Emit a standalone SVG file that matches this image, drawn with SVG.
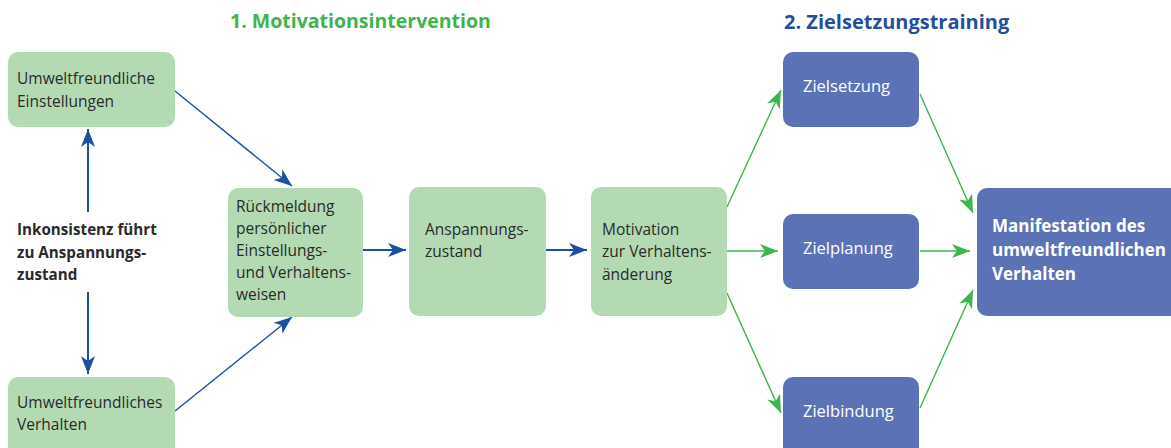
<svg xmlns="http://www.w3.org/2000/svg" width="1171" height="448" viewBox="0 0 1171 448">
<style>
.g{fill:#b3dab3}
.b{fill:#5b72b6}
.t{font-family:"Open Sans","Liberation Sans",sans-serif;font-size:15.5px;fill:#2a2a2a}
.w{font-family:"Open Sans","Liberation Sans",sans-serif;font-size:16.5px;fill:#ffffff}
.wb{font-family:"Open Sans","Liberation Sans",sans-serif;font-size:17px;font-weight:bold;fill:#ffffff}
.lb{font-family:"Open Sans","Liberation Sans",sans-serif;font-size:15.2px;font-weight:bold;fill:#2a2a2a}
.bl{stroke:#1b50a0;fill:none}
.gr{stroke:#3cb54a;fill:none;stroke-width:1.4}
</style>
<defs>
<marker id="ab" markerUnits="userSpaceOnUse" markerWidth="20" markerHeight="16" refX="18" refY="7" orient="auto"><path d="M0,0 L18,7 L0,14 L5,7 z" fill="#1b50a0"/></marker>
<marker id="ag" markerUnits="userSpaceOnUse" markerWidth="20" markerHeight="16" refX="18" refY="7" orient="auto"><path d="M0,0 L18,7 L0,14 L5,7 z" fill="#3cb54a"/></marker>
</defs>
<text x="230" y="28" font-family="Open Sans, Liberation Sans, sans-serif" font-size="19.5" font-weight="bold" fill="#3cb54a">1. Motivationsintervention</text>
<text x="784" y="29" font-family="Open Sans, Liberation Sans, sans-serif" font-size="20" font-weight="bold" fill="#1f4f9e">2. Zielsetzungstraining</text>
<g id="connectors">
<path class="bl" stroke-width="1.4" d="M175,91 L292,186" marker-end="url(#ab)"/>
<path class="bl" stroke-width="1.4" d="M175,411 L292,317" marker-end="url(#ab)"/>
<path class="bl" stroke-width="2" d="M88,212 L88,129" marker-end="url(#ab)"/>
<path class="bl" stroke-width="2" d="M88,292 L88,374" marker-end="url(#ab)"/>
<path class="bl" stroke-width="2" d="M363,250 L406,250" marker-end="url(#ab)"/>
<path class="bl" stroke-width="2" d="M546,250 L587,250" marker-end="url(#ab)"/>
<path class="gr" d="M727,207 L781,90" marker-end="url(#ag)"/>
<path class="gr" d="M727,251 L778,251" marker-end="url(#ag)"/>
<path class="gr" d="M727,293 L781,413" marker-end="url(#ag)"/>
<path class="gr" d="M920,94 L973,213" marker-end="url(#ag)"/>
<path class="gr" d="M920,251 L970,251" marker-end="url(#ag)"/>
<path class="gr" d="M920,408 L973,290" marker-end="url(#ag)"/>
</g>
<g id="n-einstellungen"><rect class="g" x="8" y="52" width="167" height="75" rx="10"/><text class="t" x="17" y="84">Umweltfreundliche</text><text class="t" x="17" y="107">Einstellungen</text></g>
<g id="n-inkonsistenz"><text class="lb" x="17" y="235">Inkonsistenz führt</text><text class="lb" x="17" y="258">zu Anspannungs-</text><text class="lb" x="17" y="280">zustand</text></g>
<g id="n-verhalten"><rect class="g" x="8" y="377" width="167" height="85" rx="10"/><text class="t" x="17" y="408">Umweltfreundliches</text><text class="t" x="17" y="430">Verhalten</text></g>
<g id="n-rueckmeldung"><rect class="g" x="228" y="188" width="135" height="129" rx="10"/><text class="t" x="236" y="212">Rückmeldung</text><text class="t" x="236" y="234">persönlicher</text><text class="t" x="236" y="256">Einstellungs-</text><text class="t" x="236" y="278">und Verhaltens-</text><text class="t" x="236" y="300">weisen</text></g>
<g id="n-anspannung"><rect class="g" x="409" y="187" width="137" height="129" rx="10"/><text class="t" x="425" y="235">Anspannungs-</text><text class="t" x="425" y="257">zustand</text></g>
<g id="n-motivation"><rect class="g" x="591" y="187" width="136" height="129" rx="10"/><text class="t" x="602" y="235">Motivation</text><text class="t" x="602" y="257">zur Verhaltens-</text><text class="t" x="602" y="280">änderung</text></g>
<g id="n-zielsetzung"><rect class="b" x="783" y="52" width="136" height="75" rx="10"/><text class="w" x="803" y="92">Zielsetzung</text></g>
<g id="n-zielplanung"><rect class="b" x="783" y="214" width="136" height="75" rx="10"/><text class="w" x="803" y="254">Zielplanung</text></g>
<g id="n-zielbindung"><rect class="b" x="783" y="377" width="136" height="85" rx="10"/><text class="w" x="803" y="417">Zielbindung</text></g>
<g id="n-manifestation"><rect class="b" x="977" y="188" width="210" height="128" rx="10"/><text class="wb" x="992" y="232">Manifestation des</text><text class="wb" x="992" y="256">umweltfreundlichen</text><text class="wb" x="992" y="280">Verhalten</text></g>
</svg>
